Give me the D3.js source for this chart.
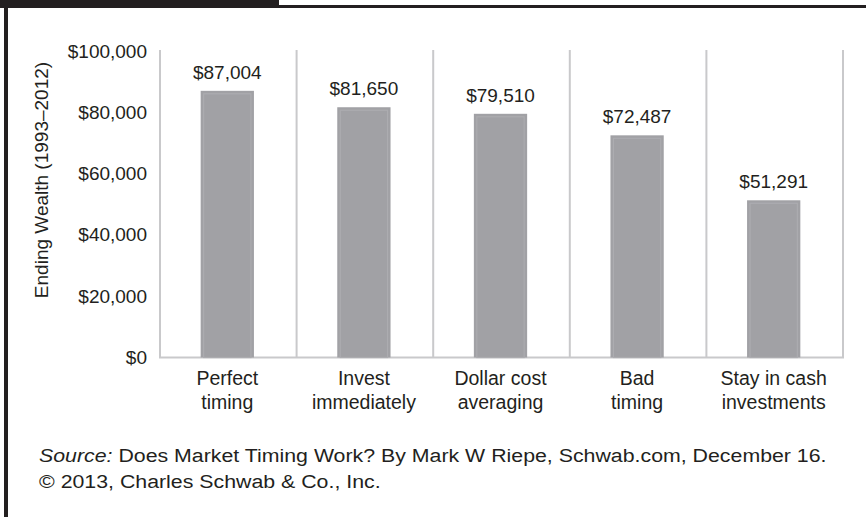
<!DOCTYPE html>
<html>
<head>
<meta charset="utf-8">
<script src="https://cdn.jsdelivr.net/npm/d3@7"></script>
<style>
  html, body { margin: 0; padding: 0; background: #fff; }
  svg { display: block; font-family: "Liberation Sans", Arial, Helvetica, sans-serif; }
</style>
</head>
<body>
<svg id="chart" width="866" height="517"></svg>
<script>
// Ending wealth by investing strategy, 1993–2012
const categories = [
  ["Perfect", "timing"],
  ["Invest", "immediately"],
  ["Dollar cost", "averaging"],
  ["Bad", "timing"],
  ["Stay in cash", "investments"]
];
const values = [87004, 81650, 79510, 72487, 51291];
const tickValues = [0, 20000, 40000, 60000, 80000, 100000];
const yTitle = "Ending Wealth (1993\u20132012)";
const sourceLabel = "Source:";
const sourceText = " Does Market Timing Work? By Mark W Riepe, Schwab.com, December 16.";
const copyrightText = "\u00A9 2013, Charles Schwab & Co., Inc.";

const svg = d3.select("#chart");
const ink = "#231f20";
const gridColor = "#c9c9cb";
const barColor = "#a1a1a5";

// Frame: dark tab at the top-left, rule along the top, rule down the left
svg.append("rect").attr("x", 0).attr("y", 0).attr("width", 279).attr("height", 8).attr("fill", ink);
svg.append("rect").attr("x", 279).attr("y", 5).attr("width", 587).attr("height", 3).attr("fill", ink);
svg.append("rect").attr("x", 4).attr("y", 0).attr("width", 4).attr("height", 517).attr("fill", ink);

const plot = { left: 160, right: 843, top: 51, bottom: 357.5 };

const x = d3.scaleBand()
  .domain(d3.range(categories.length))
  .range([plot.left, plot.right])
  .paddingInner(0)
  .paddingOuter(0);

const y = d3.scaleLinear()
  .domain([0, 100000])
  .range([plot.bottom, plot.top]);

const g = svg.append("g");

// Vertical separators between categories (including the left axis line)
const seps = d3.range(categories.length + 1).map(i => i === categories.length ? plot.right : x(i));
g.selectAll("line.sep").data(seps).enter().append("line")
  .attr("class", "sep")
  .attr("x1", d => d).attr("x2", d => d)
  .attr("y1", y(100000) - 1).attr("y2", y(0))
  .attr("stroke", gridColor).attr("stroke-width", 2);

// Baseline
g.append("line")
  .attr("x1", plot.left - 1).attr("x2", plot.right + 1)
  .attr("y1", y(0)).attr("y2", y(0))
  .attr("stroke", gridColor).attr("stroke-width", 2);

// Y axis tick labels
const yAxis = d3.axisLeft(y)
  .tickValues(tickValues)
  .tickSize(0)
  .tickPadding(13)
  .tickFormat(d => "$" + d3.format(",")(d));
const ya = g.append("g").attr("transform", `translate(${plot.left},0)`).call(yAxis);
ya.select(".domain").remove();
ya.selectAll("text")
  .attr("fill", ink)
  .style("font-size", "19px")
  .style("font-family", "'Liberation Sans', Arial, sans-serif");

// Bars
const barW = x.bandwidth() * 0.39;
const bars = g.selectAll("g.bar").data(values).enter().append("g").attr("class", "bar");
bars.append("rect")
  .attr("x", (d, i) => x(i) + (x.bandwidth() - barW) / 2 - 1)
  .attr("y", d => y(d))
  .attr("width", barW)
  .attr("height", d => y(0) - y(d))
  .attr("fill", barColor);
// faint inner edge
bars.append("rect")
  .attr("x", (d, i) => x(i) + (x.bandwidth() - barW) / 2 + 2)
  .attr("y", d => y(d) + 3)
  .attr("width", barW - 6)
  .attr("height", d => y(0) - y(d) - 3)
  .attr("fill", "none")
  .attr("stroke", "#acacb0")
  .attr("stroke-width", 1.2);

// Value labels
bars.append("text")
  .attr("x", (d, i) => x(i) + x.bandwidth() / 2 - 1)
  .attr("y", d => y(d) - 12)
  .attr("text-anchor", "middle")
  .attr("fill", ink)
  .style("font-size", "19px")
  .text(d => "$" + d3.format(",")(d));

// Category labels (two lines)
const cat = g.selectAll("text.cat").data(categories).enter().append("text")
  .attr("class", "cat")
  .attr("text-anchor", "middle")
  .attr("fill", ink)
  .style("font-size", "19.5px");
cat.selectAll("tspan").data((d, i) => d.map(t => ({ t, i }))).enter().append("tspan")
  .attr("x", d => x(d.i) + x.bandwidth() / 2 - 1)
  .attr("y", (d, j) => 385 + j * 24)
  .text(d => d.t);

// Y axis title
svg.append("text")
  .attr("transform", `translate(48,180) rotate(-90)`)
  .attr("text-anchor", "middle")
  .attr("fill", ink)
  .style("font-size", "19px")
  .text(yTitle);

// Source note, set in a horizontally widened face
const noteWidth = 788;
const note = svg.append("g");
const src = note.append("text")
  .attr("x", 0).attr("y", 462)
  .attr("fill", ink)
  .style("font-size", "19px");
src.append("tspan").style("font-style", "italic").text(sourceLabel);
src.append("tspan").text(sourceText);
note.append("text")
  .attr("x", 0).attr("y", 488)
  .attr("fill", ink)
  .style("font-size", "19px")
  .text(copyrightText);
const stretch = noteWidth / src.node().getComputedTextLength();
note.attr("transform", `translate(39,0) scale(${stretch},1)`);
</script>
</body>
</html>
